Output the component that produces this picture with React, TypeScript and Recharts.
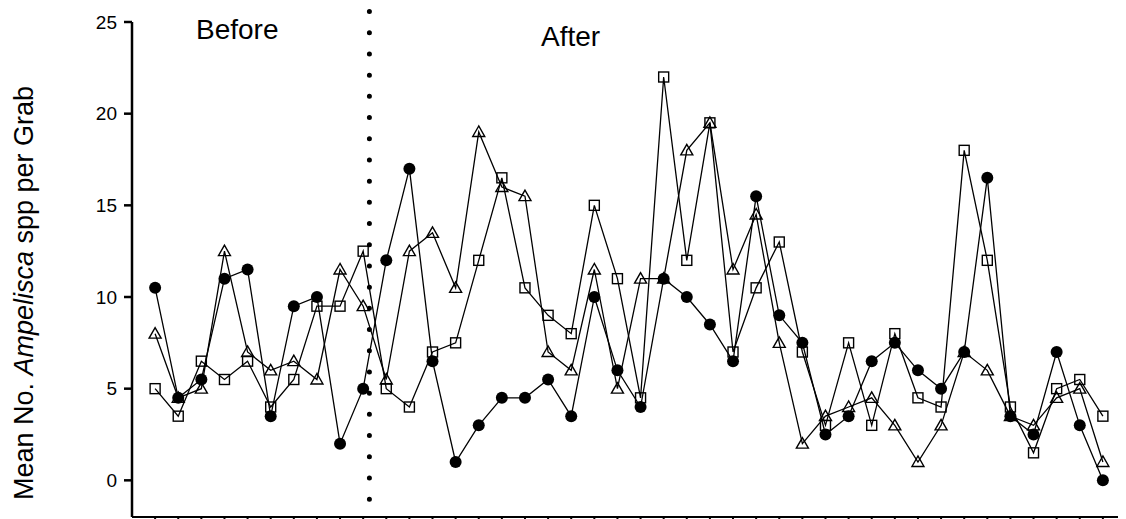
// App.tsx
import React from "react";
import { LineChart, Line, XAxis, YAxis, ReferenceLine } from "recharts";

// three sampling series, one value per survey (42 surveys)
const circleSeries = [10.5, 4.5, 5.5, 11, 11.5, 3.5, 9.5, 10, 2, 5, 12, 17, 6.5, 1, 3, 4.5, 4.5, 5.5, 3.5, 10, 6, 4, 11, 10, 8.5, 6.5, 15.5, 9, 7.5, 2.5, 3.5, 6.5, 7.5, 6, 5, 7, 16.5, 3.5, 2.5, 7, 3, 0];
const squareSeries = [5, 3.5, 6.5, 5.5, 6.5, 4, 5.5, 9.5, 9.5, 12.5, 5, 4, 7, 7.5, 12, 16.5, 10.5, 9, 8, 15, 11, 4.5, 22, 12, 19.5, 7, 10.5, 13, 7, 3, 7.5, 3, 8, 4.5, 4, 18, 12, 4, 1.5, 5, 5.5, 3.5];
const triangleSeries = [8, 4.5, 5, 12.5, 7, 6, 6.5, 5.5, 11.5, 9.5, 5.5, 12.5, 13.5, 10.5, 19, 16, 15.5, 7, 6, 11.5, 5, 11, 11, 18, 19.5, 11.5, 14.5, 7.5, 2, 3.5, 4, 4.5, 3, 1, 3, 7, 6, 3.5, 3, 4.5, 5, 1];

const yTicks = [0, 5, 10, 15, 20, 25];
const xTicks = circleSeries.map((_, i) => i);
const breakPoint = 9.27; // before / after divider

const data = circleSeries.map((v, i) => ({
  idx: i,
  circle: v,
  square: squareSeries[i],
  triangle: triangleSeries[i],
}));

const FONT = "'Liberation Sans', Arial, sans-serif";

// plot frame (chart coords), must match margins / axis sizes below
const W = 1118;
const H = 519;
const TOP = 14;
const LEFT = 124;
const X_H = 10;
const Y_DOMAIN = [-2, 25];
const X_DOMAIN = [-1, 42];
const plotBottom = H - X_H;
const xPos = (v: number) => LEFT + ((v - X_DOMAIN[0]) / (X_DOMAIN[1] - X_DOMAIN[0])) * (W - LEFT);

const CircleDot = (props: any) => {
  const { cx, cy, index } = props;
  return <circle key={`c-${index}`} cx={cx} cy={cy} r={6} fill="#000" />;
};

const SquareDot = (props: any) => {
  const { cx, cy, index } = props;
  return (
    <rect key={`s-${index}`} x={cx - 5} y={cy - 5} width={10} height={10} fill="none" stroke="#000" strokeWidth={1.4} />
  );
};

const TriangleDot = (props: any) => {
  const { cx, cy, index } = props;
  return (
    <polygon
      key={`t-${index}`}
      points={`${cx},${cy - 6} ${cx - 6},${cy + 4.5} ${cx + 6},${cy + 4.5}`}
      fill="none"
      stroke="#000"
      strokeWidth={1.4}
    />
  );
};

const YLabel = () => (
  <text
    x={25}
    y={285}
    transform="rotate(-90 25 285)"
    textAnchor="middle"
    fontFamily={FONT}
    fontSize={27}
    fill="#000"
  >
    Mean No. <tspan fontStyle="italic">Ampelisca</tspan> spp per Grab
  </text>
);

// x tick marks under the axis line
const XTickMarks = () => (
  <g stroke="#000" strokeWidth={2}>
    {xTicks.map((t) => (
      <line key={`xt-${t}`} x1={xPos(t)} y1={plotBottom} x2={xPos(t)} y2={plotBottom + 6} />
    ))}
  </g>
);

export default function App() {
  return (
    <div style={{ width: W, height: 511 }}>
      <LineChart width={W} height={H} data={data} margin={{ top: TOP, right: 0, bottom: 0, left: 0 }}>
        <XAxis
          dataKey="idx"
          type="number"
          domain={X_DOMAIN}
          ticks={xTicks}
          tick={false}
          tickLine={false}
          height={X_H}
          stroke="#000"
          strokeWidth={2}
        />
        <YAxis
          type="number"
          domain={Y_DOMAIN}
          ticks={yTicks}
          width={LEFT}
          tickSize={8}
          tickMargin={7}
          stroke="#000"
          strokeWidth={2.5}
          axisLine={true}
          tickLine={true}
          tick={{ fill: "#000", fontSize: 19, fontFamily: FONT }}
        />
        <ReferenceLine
          segment={[{ x: breakPoint, y: 25.57 }, { x: breakPoint, y: -1.09 }]}
          ifOverflow="visible"
          stroke="#000"
          strokeWidth={5}
          strokeDasharray="0 21.2"
          strokeLinecap="round"
        />
        <Line type="linear" dataKey="triangle" stroke="#000" strokeWidth={1.3} dot={TriangleDot} isAnimationActive={false} />
        <Line type="linear" dataKey="square" stroke="#000" strokeWidth={1.3} dot={SquareDot} isAnimationActive={false} />
        <Line type="linear" dataKey="circle" stroke="#000" strokeWidth={1.3} dot={CircleDot} isAnimationActive={false} />
        <XTickMarks />
        <text x={188} y={31.3} fontFamily={FONT} fontSize={28} fill="#000">Before</text>
        <text x={533} y={37.5} fontFamily={FONT} fontSize={28} fill="#000">After</text>
        <YLabel />
      </LineChart>
    </div>
  );
}
